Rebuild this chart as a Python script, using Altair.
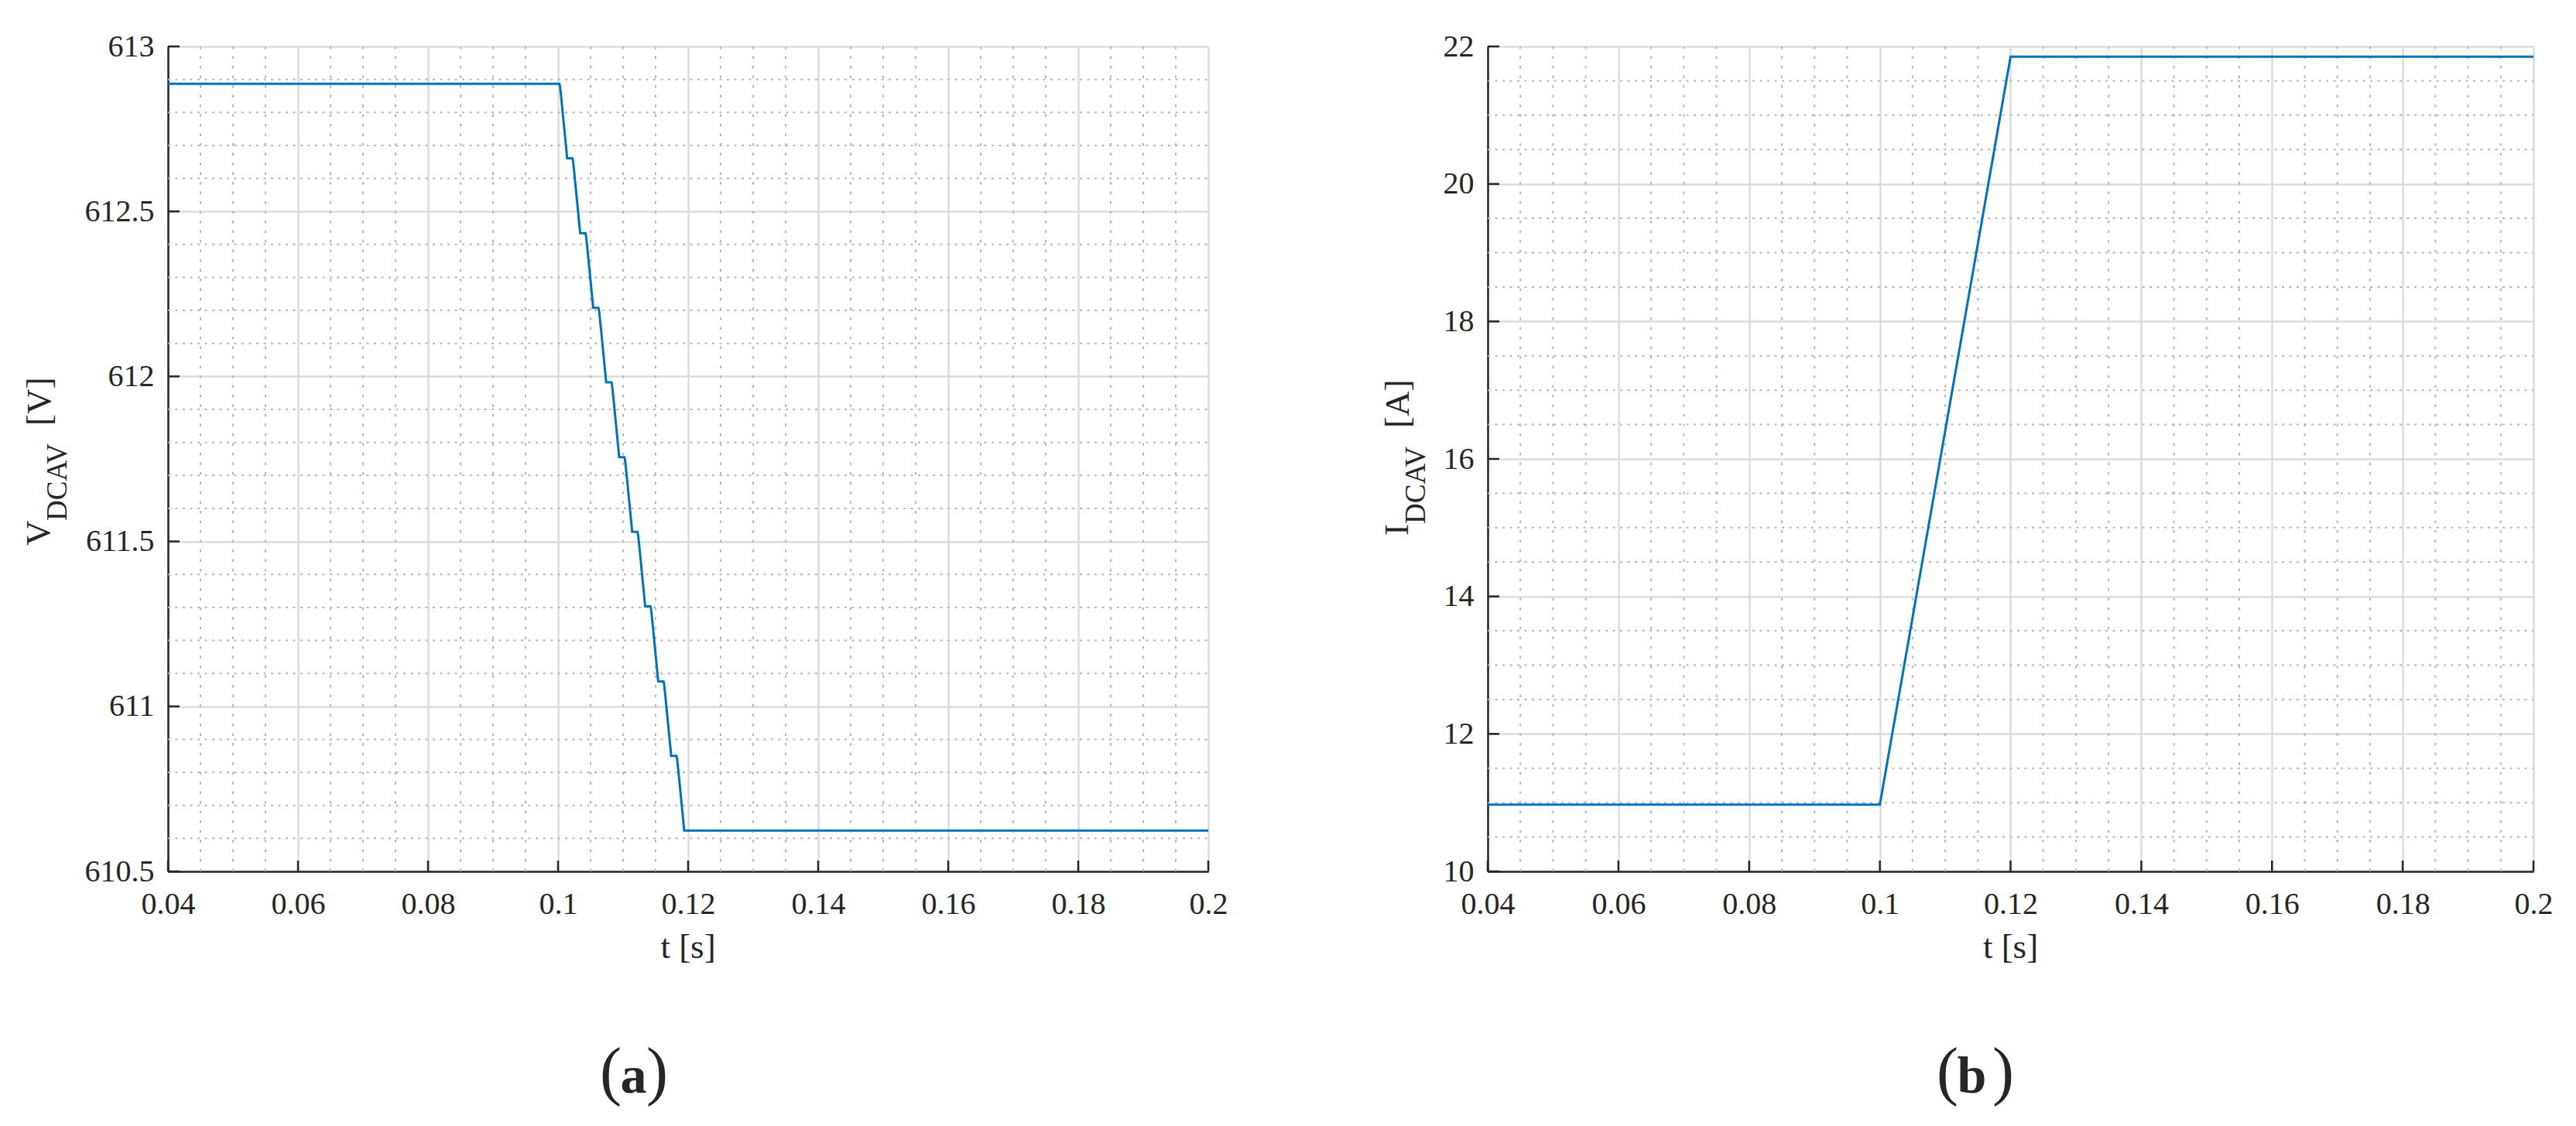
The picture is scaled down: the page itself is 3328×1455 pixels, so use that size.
import altair as alt
import pandas as pd

# ---------------- data ----------------
t_v = [0.04,
       0.1002, 0.1003, 0.1005, 0.1014,
       0.1022, 0.1023, 0.1025, 0.1034,
       0.1042, 0.1043, 0.1045, 0.1054,
       0.1062, 0.1063, 0.1065, 0.1074,
       0.1082, 0.1083, 0.1085, 0.1094,
       0.1102, 0.1103, 0.1105, 0.1114,
       0.1122, 0.1123, 0.1125, 0.1134,
       0.1142, 0.1143, 0.1145, 0.1154,
       0.1162, 0.1163, 0.1165, 0.1174,
       0.1182, 0.1183, 0.1185, 0.1194,
       0.2]
v_dcav = [612.887,
          612.887, 612.879, 612.842, 612.661,
          612.661, 612.653, 612.616, 612.434,
          612.434, 612.426, 612.389, 612.208,
          612.208, 612.200, 612.163, 611.982,
          611.982, 611.974, 611.937, 611.755,
          611.755, 611.747, 611.710, 611.529,
          611.529, 611.521, 611.484, 611.303,
          611.303, 611.295, 611.258, 611.076,
          611.076, 611.068, 611.031, 610.850,
          610.850, 610.842, 610.805, 610.624,
          610.624]

t_i = [0.04, 0.1, 0.12, 0.2]
i_dcav = [10.97, 10.97, 21.85, 21.85]

x_ticks = [0.04, 0.06, 0.08, 0.1, 0.12, 0.14, 0.16, 0.18, 0.2]
v_ticks = [610.5, 611, 611.5, 612, 612.5, 613]
i_ticks = [10, 12, 14, 16, 18, 20, 22]

x_minor = [round(0.04 + 0.005 * k, 4) for k in range(33) if k % 4 != 0]
v_minor = [round(610.5 + 0.1 * k, 2) for k in range(26) if k % 5 != 0]
i_minor = [round(10 + 0.5 * k, 2) for k in range(25) if k % 4 != 0]

# ---------------- style ----------------
FONT = "Liberation Serif, Times New Roman, DejaVu Serif, serif"
TXT = "#262626"
LINE = "#0072BD"
MAJOR = "#dcdcdc"
MINOR = "#b8b8b8"
H = 1066
W1 = 1344
W2 = 1351


def txt(s, x, y, size, angle=0, align="left", weight="normal"):
    return alt.Chart(pd.DataFrame({"k": [0]})).mark_text(
        text=s, font=FONT, fontSize=size, angle=angle, align=align,
        baseline="alphabetic", color=TXT, fontWeight=weight
    ).encode(x=alt.value(x), y=alt.value(y))


def make_axis(values, pad):
    return alt.Axis(
        values=values, grid=True, gridColor=MAJOR, gridWidth=2.5,
        ticks=False, domain=True, domainColor=TXT, domainWidth=2.5,
        labelFont=FONT, labelFontSize=40, labelColor=TXT, labelPadding=pad,
        labelFlush=False, labelOverlap=False, title=None, format="~g")


def panel(t, y, ydom, yticks, yminor, W, title_parts, label_parts):
    xs = alt.Scale(domain=[0.04, 0.2], nice=False, zero=False)
    ys = alt.Scale(domain=ydom, nice=False, zero=False)
    xax = make_axis(x_ticks, 22)
    yax = make_axis(yticks, 18)
    df = pd.DataFrame({"t": t, "y": y})

    vmin = alt.Chart(pd.DataFrame({"t": x_minor})).mark_rule(
        color=MINOR, strokeWidth=2, strokeDash=[3.5, 9]
    ).encode(x=alt.X("t:Q", scale=xs, axis=xax), y=alt.value(0), y2=alt.value(H))

    hmin = alt.Chart(pd.DataFrame({"y": yminor})).mark_rule(
        color=MINOR, strokeWidth=2, strokeDash=[3, 6.5]
    ).encode(y=alt.Y("y:Q", scale=ys, axis=yax), x=alt.value(0), x2=alt.value(W))

    line = alt.Chart(df).mark_line(color=LINE, strokeWidth=3, clip=True).encode(
        x=alt.X("t:Q", scale=xs, axis=xax),
        y=alt.Y("y:Q", scale=ys, axis=yax),
    )

    ytk = alt.Chart(pd.DataFrame({"y": yticks})).mark_rule(
        color=TXT, strokeWidth=2.5
    ).encode(y=alt.Y("y:Q", scale=ys, axis=yax), x=alt.value(0), x2=alt.value(15))

    xtk = alt.Chart(pd.DataFrame({"t": x_ticks})).mark_rule(
        color=TXT, strokeWidth=2.5
    ).encode(x=alt.X("t:Q", scale=xs, axis=xax), y=alt.value(H), y2=alt.value(H - 14))

    texts = [txt(*p) for p in title_parts]
    texts.append(txt("t [s]", W / 2, 1178, 45, 0, "center"))
    texts += [txt(*p) for p in label_parts]

    return alt.layer(vmin, hmin, line, ytk, xtk, *texts).properties(width=W, height=H)


left = panel(
    t_v, v_dcav, [610.5, 613], v_ticks, v_minor, W1,
    [("V", -153, 645, 45, 270, "left"),
     ("DCAV", -131, 613, 37, 270, "left"),
     ("[V]", -152, 490, 45, 270, "left")],
    [("(", 586, 1352, 84, 0, "right"),
     ("a", 601.5, 1352, 68, 0, "center", "bold"),
     (")", 618, 1352, 84, 0, "left")],
)

right = panel(
    t_i, i_dcav, [10, 22], i_ticks, i_minor, W2,
    [("I", -103, 632, 45, 270, "left"),
     ("DCAV", -81, 617, 37, 270, "left"),
     ("[A]", -102, 493, 45, 270, "left")],
    [("(", 608, 1352, 84, 0, "right"),
     ("b", 625.5, 1352, 68, 0, "center", "bold"),
     (")", 652, 1352, 84, 0, "left")],
)

chart = alt.hconcat(left, right, spacing=361, bounds="flush").properties(
    padding={"left": 20, "top": 32, "right": 5, "bottom": 5},
    background="white",
).configure_view(stroke=None)

chart.save("out.html", embed_options={"renderer": "svg", "actions": False})
